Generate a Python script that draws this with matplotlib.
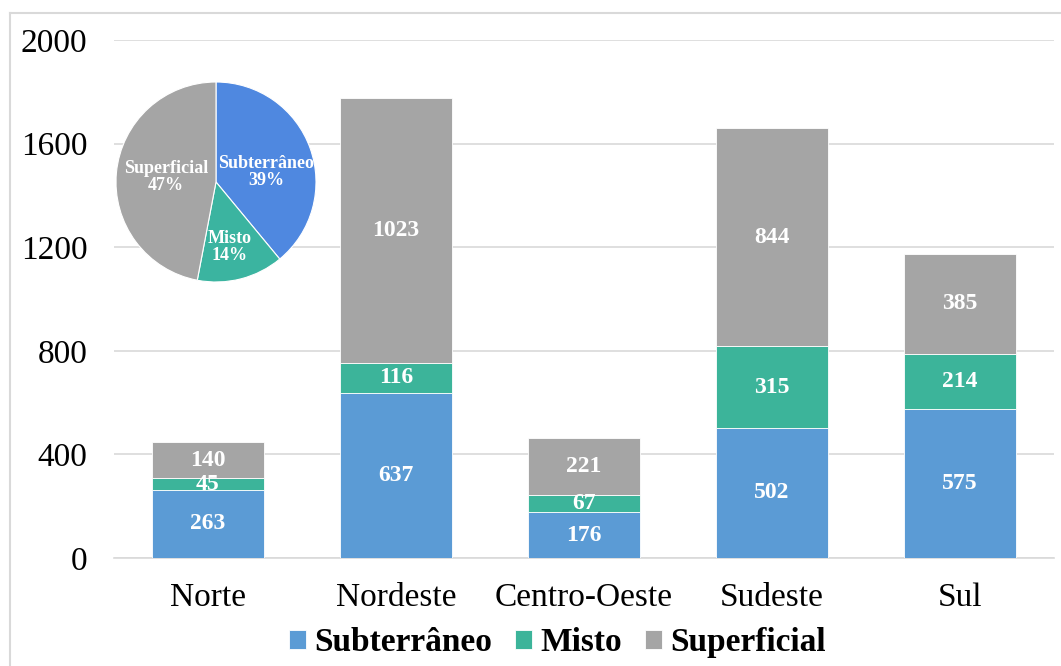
import matplotlib
matplotlib.use('Agg')
import matplotlib.pyplot as plt
import numpy as np
from matplotlib.lines import Line2D

plt.rcParams['font.family'] = ['Liberation Serif', 'DejaVu Serif']

regions = ['Norte', 'Nordeste', 'Centro-Oeste', 'Sudeste', 'Sul']
subterraneo = [263, 637, 176, 502, 575]
misto = [45, 116, 67, 315, 214]
superficial = [140, 1023, 221, 844, 385]

series_names = ['Subterrâneo', 'Misto', 'Superficial']
bar_colors = ['#5B9BD5', '#3CB49A', '#A5A5A5']

pie_labels = ['Subterrâneo', 'Misto', 'Superficial']
pie_shares = [39, 14, 47]
pie_colors = ['#4F88E0', '#3BB4A0', '#A5A5A5']

y_ticks = [0, 400, 800, 1200, 1600, 2000]

fig = plt.figure(figsize=(10.61, 6.66), dpi=100)
ax = fig.add_axes([114 / 1061, 108 / 666, 940 / 1061, 518 / 666])

x = np.arange(len(regions))
bottom = np.zeros(len(regions))
for name, vals, col in zip(series_names, [subterraneo, misto, superficial], bar_colors):
    vals = np.array(vals)
    ax.bar(x, vals, width=0.6, bottom=bottom, color=col, label=name,
           edgecolor='white', linewidth=0.6, zorder=3)
    for xi, b, v in zip(x, bottom, vals):
        ax.text(xi, b + v / 2, str(v), ha='center', va='center', color='white',
                fontsize=17, fontweight='bold', zorder=4)
    bottom += vals

ax.set_xlim(-0.5, len(regions) - 0.5)
ax.set_ylim(0, 2000)
ax.set_yticks(y_ticks)
ax.set_xticks(x)
ax.set_xticklabels(regions)
ax.tick_params(axis='both', length=0, labelsize=24, colors='black')
ax.tick_params(axis='y', pad=19)
ax.tick_params(axis='x', pad=18)
ax.grid(True, axis='y', color='#D9D9D9', linewidth=1.2, zorder=0)
for side in ['top', 'right', 'left']:
    ax.spines[side].set_visible(False)
ax.spines['bottom'].set_color('#D9D9D9')
ax.spines['bottom'].set_linewidth(1.2)

ax.legend(loc='upper center', bbox_to_anchor=(0.472, -0.108), ncol=3,
          frameon=False, handlelength=0.5, handleheight=0.5,
          handletextpad=0.25, columnspacing=0.7, borderaxespad=0,
          prop={'size': 24, 'weight': 'bold'})

# pie inset
pax = fig.add_axes([116 / 1061, (666 - 282) / 666, 200 / 1061, 200 / 666])
pax.pie(pie_shares, colors=pie_colors, startangle=90, counterclock=False, radius=1,
        wedgeprops={'edgecolor': 'white', 'linewidth': 0.8})
pax.set_xlim(-1, 1)
pax.set_ylim(-1, 1)
pax.set_aspect('equal')
label_pos = [(0.5, 0.1), (0.14, -0.65), (-0.5, 0.05)]
for (px, py), lab, s in zip(label_pos, pie_labels, pie_shares):
    pax.text(px, py, f'{lab}\n{s}%', ha='center', va='center', color='white',
             fontsize=13, fontweight='bold', linespacing=1.0)

# outer frame (left and top edges)
fig.add_artist(Line2D([10 / 1061, 10 / 1061], [0, 1 - 13 / 666], transform=fig.transFigure,
                      color='#D9D9D9', linewidth=1.5))
fig.add_artist(Line2D([10 / 1061, 1], [1 - 13 / 666, 1 - 13 / 666], transform=fig.transFigure,
                      color='#D9D9D9', linewidth=1.5))

fig.savefig('out.png', dpi=100)
